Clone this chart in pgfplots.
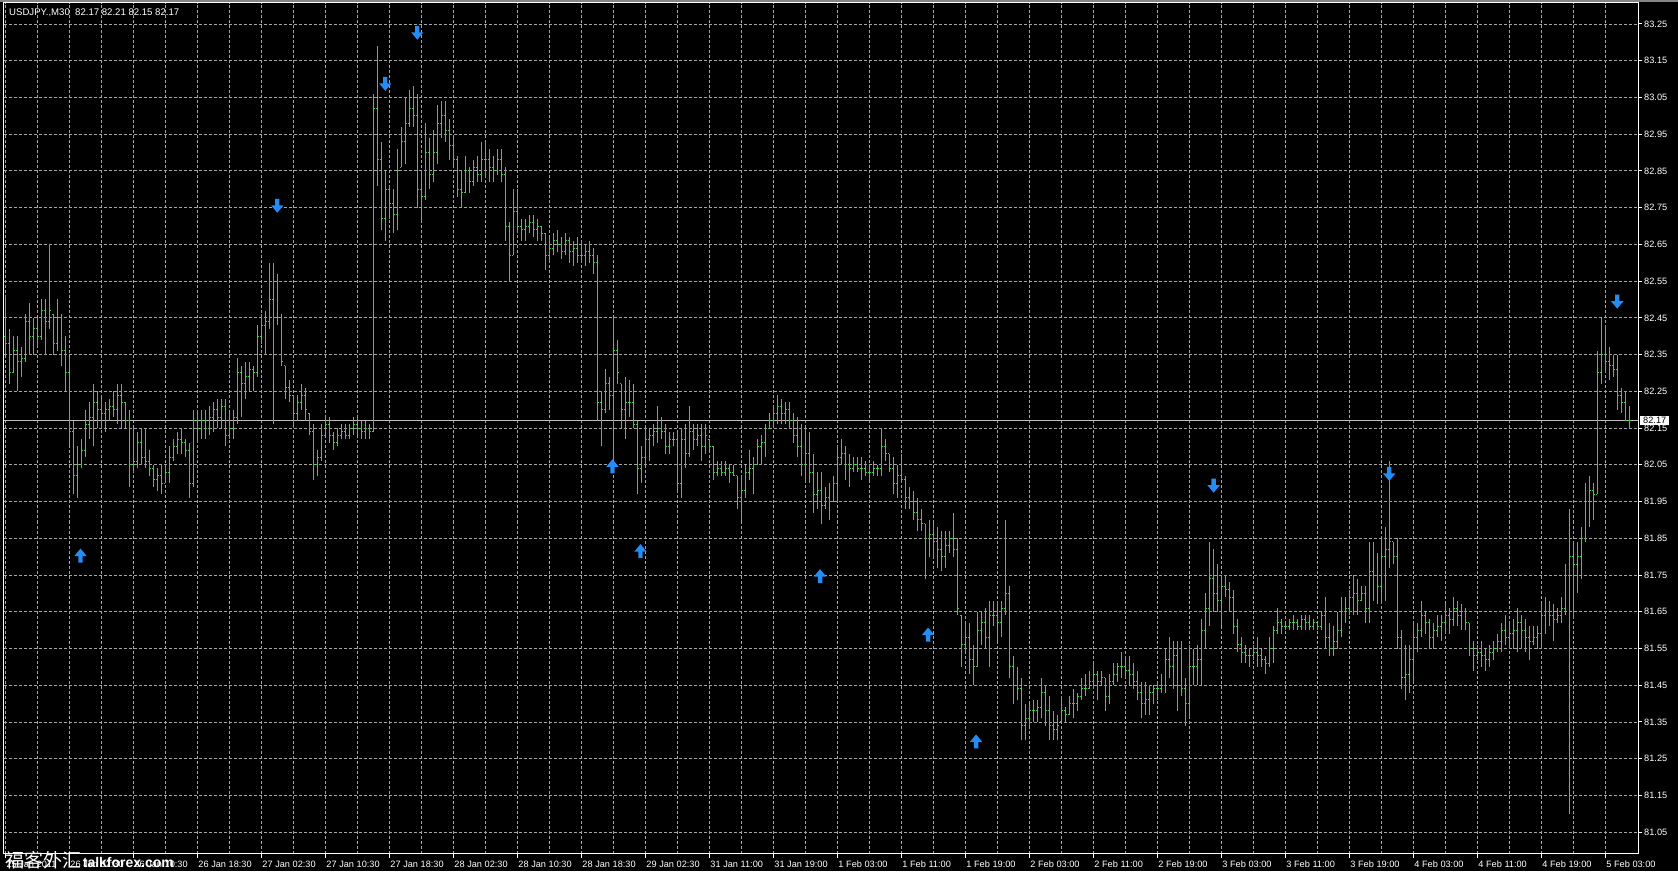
\documentclass[border=0pt]{standalone}
\usepackage{fontspec}
\setmainfont{Liberation Sans}
\newfontfamily\cjk{Noto Sans CJK SC}
\usepackage{pgfplots}
\usepackage{pgfplotstable}
\pgfplotsset{compat=1.18}

\definecolor{barcol}{RGB}{72,200,72}
\definecolor{arrcol}{RGB}{35,140,245}
\definecolor{gridcol}{RGB}{165,165,165}
\definecolor{pricecol}{RGB}{190,190,190}

% MT4-style signal arrows
\pgfdeclareplotmark{mtup}{%
  \pgfpathmoveto{\pgfqpoint{-2.2pt}{-7pt}}%
  \pgfpathlineto{\pgfqpoint{2.2pt}{-7pt}}%
  \pgfpathlineto{\pgfqpoint{2.2pt}{-0.5pt}}%
  \pgfpathlineto{\pgfqpoint{6.2pt}{-0.5pt}}%
  \pgfpathlineto{\pgfqpoint{0pt}{7pt}}%
  \pgfpathlineto{\pgfqpoint{-6.2pt}{-0.5pt}}%
  \pgfpathlineto{\pgfqpoint{-2.2pt}{-0.5pt}}%
  \pgfpathclose\pgfusepathqfill}
\pgfdeclareplotmark{mtdown}{%
  \pgfpathmoveto{\pgfqpoint{-2.2pt}{7pt}}%
  \pgfpathlineto{\pgfqpoint{2.2pt}{7pt}}%
  \pgfpathlineto{\pgfqpoint{2.2pt}{0.5pt}}%
  \pgfpathlineto{\pgfqpoint{6.2pt}{0.5pt}}%
  \pgfpathlineto{\pgfqpoint{0pt}{-7pt}}%
  \pgfpathlineto{\pgfqpoint{-6.2pt}{0.5pt}}%
  \pgfpathlineto{\pgfqpoint{-2.2pt}{0.5pt}}%
  \pgfpathclose\pgfusepathqfill}

% USDJPY M30 bars: index, open, high, low, close
\pgfplotstableread{
i o h l c
0 82.40 82.51 82.35 82.38
1 82.38 82.42 82.27 82.30
2 82.30 82.40 82.30 82.36
3 82.36 82.40 82.25 82.33
4 82.33 82.37 82.29 82.34
5 82.34 82.46 82.33 82.44
6 82.44 82.49 82.35 82.40
7 82.40 82.45 82.35 82.42
8 82.42 82.45 82.37 82.40
9 82.40 82.50 82.39 82.47
10 82.47 82.50 82.35 82.44
11 82.44 82.65 82.42 82.47
12 82.46 82.46 82.35 82.38
13 82.38 82.50 82.36 82.45
14 82.45 82.46 82.32 82.36
15 82.36 82.40 82.25 82.30
16 82.30 82.34 82.10 82.14
17 82.14 82.17 81.97 82.02
18 82.02 82.10 81.96 82.05
19 82.05 82.12 82.04 82.09
20 82.09 82.20 82.07 82.16
21 82.16 82.22 82.12 82.18
22 82.18 82.27 82.10 82.22
23 82.22 82.25 82.15 82.20
24 82.20 82.24 82.15 82.19
25 82.19 82.22 82.14 82.20
26 82.20 82.23 82.17 82.21
27 82.21 82.25 82.18 82.20
28 82.20 82.27 82.16 82.24
29 82.24 82.27 82.15 82.22
30 82.22 82.22 82.15 82.17
31 82.17 82.20 81.99 82.05
32 82.05 82.15 82.03 82.06
33 82.06 82.14 82.04 82.11
34 82.11 82.15 82.05 82.07
35 82.07 82.15 82.04 82.06
36 82.06 82.09 82.02 82.04
37 82.04 82.05 81.99 82.01
38 82.01 82.04 81.98 82.02
39 82.02 82.05 81.97 82.00
40 82.00 82.05 82.00 82.03
41 82.03 82.10 82.00 82.07
42 82.07 82.12 82.06 82.10
43 82.10 82.14 82.08 82.12
44 82.12 82.15 82.08 82.11
45 82.11 82.12 82.07 82.09
46 82.09 82.11 81.96 82.00
47 82.00 82.20 81.99 82.17
48 82.17 82.20 82.11 82.15
49 82.15 82.20 82.12 82.17
50 82.17 82.20 82.12 82.15
51 82.15 82.21 82.13 82.18
52 82.18 82.22 82.14 82.20
53 82.20 82.23 82.15 82.18
54 82.18 82.23 82.15 82.21
55 82.21 82.23 82.10 82.13
56 82.13 82.19 82.12 82.15
57 82.15 82.20 82.12 82.18
58 82.18 82.34 82.16 82.30
59 82.30 82.32 82.18 82.27
60 82.27 82.33 82.23 82.29
61 82.29 82.33 82.25 82.31
62 82.31 82.32 82.25 82.30
63 82.30 82.43 82.29 82.40
64 82.40 82.46 82.38 82.43
65 82.43 82.47 82.35 82.44
66 82.44 82.60 82.42 82.50
67 82.50 82.60 82.16 82.45
68 82.45 82.57 82.43 82.45
69 82.45 82.46 82.32 82.33
70 82.32 82.32 82.23 82.26
71 82.26 82.28 82.22 82.24
72 82.24 82.24 82.15 82.19
73 82.19 82.24 82.17 82.22
74 82.22 82.27 82.20 82.24
75 82.24 82.26 82.17 82.20
76 82.19 82.19 82.13 82.14
77 82.14 82.16 82.01 82.05
78 82.05 82.09 82.02 82.07
79 82.07 82.16 82.06 82.13
80 82.13 82.18 82.13 82.16
81 82.16 82.18 82.11 82.13
82 82.13 82.14 82.09 82.11
83 82.11 82.15 82.10 82.13
84 82.13 82.16 82.12 82.14
85 82.14 82.16 82.12 82.13
86 82.13 82.16 82.12 82.15
87 82.15 82.18 82.13 82.16
88 82.16 82.18 82.13 82.15
89 82.15 82.17 82.12 82.14
90 82.14 82.17 82.12 82.15
91 82.15 82.16 82.12 82.14
92 82.14 83.06 82.14 83.02
93 83.02 83.19 82.81 82.88
94 82.88 82.93 82.69 82.72
95 82.72 82.85 82.66 82.80
96 82.80 82.81 82.72 82.76
97 82.76 82.80 82.68 82.73
98 82.73 82.91 82.69 82.85
99 82.86 82.97 82.86 82.93
100 82.93 83.05 82.87 82.98
101 82.98 83.07 82.97 83.02
102 83.02 83.08 82.97 83.00
103 83.00 83.06 82.75 82.80
104 82.80 82.85 82.71 82.78
105 82.78 82.98 82.77 82.90
106 82.90 82.94 82.80 82.84
107 82.84 82.96 82.82 82.90
108 82.90 83.03 82.87 82.98
109 82.98 83.04 82.94 83.00
110 83.00 83.04 82.93 82.96
111 82.96 82.99 82.88 82.92
112 82.92 82.94 82.86 82.88
113 82.88 82.89 82.78 82.80
114 82.80 82.85 82.75 82.79
115 82.79 82.89 82.79 82.85
116 82.85 82.86 82.79 82.82
117 82.82 82.88 82.81 82.86
118 82.86 82.89 82.82 82.84
119 82.84 82.93 82.82 82.88
120 82.88 82.93 82.83 82.88
121 82.88 82.91 82.82 82.86
122 82.86 82.89 82.82 82.85
123 82.85 82.91 82.84 82.88
124 82.88 82.91 82.82 82.84
125 82.84 82.86 82.66 82.70
126 82.70 82.71 82.55 82.62
127 82.62 82.80 82.62 82.74
128 82.74 82.80 82.68 82.70
129 82.70 82.72 82.66 82.69
130 82.69 82.72 82.66 82.70
131 82.70 82.73 82.68 82.71
132 82.71 82.73 82.67 82.69
133 82.69 82.72 82.66 82.70
134 82.70 82.70 82.66 82.68
135 82.68 82.68 82.58 82.62
136 82.62 82.67 82.60 82.64
137 82.64 82.68 82.62 82.66
138 82.66 82.69 82.63 82.65
139 82.65 82.67 82.61 82.63
140 82.63 82.68 82.62 82.66
141 82.66 82.67 82.60 82.63
142 82.63 82.66 82.59 82.64
143 82.64 82.67 82.60 82.62
144 82.62 82.66 82.60 82.62
145 82.62 82.65 82.59 82.63
146 82.63 82.66 82.60 82.62
147 82.62 82.64 82.57 82.60
148 82.60 82.62 82.17 82.22
149 82.22 82.25 82.10 82.20
150 82.20 82.31 82.19 82.27
151 82.27 82.29 82.20 82.24
152 82.24 82.45 82.06 82.36
153 82.36 82.39 82.27 82.30
154 82.27 82.27 82.15 82.20
155 82.20 82.29 82.12 82.22
156 82.22 82.28 82.18 82.22
157 82.22 82.27 82.15 82.16
158 82.16 82.17 81.97 82.04
159 82.04 82.10 82.00 82.07
160 82.07 82.15 82.05 82.12
161 82.12 82.15 82.06 82.13
162 82.13 82.16 82.10 82.14
163 82.14 82.21 82.11 82.15
164 82.15 82.18 82.12 82.14
165 82.14 82.16 82.08 82.10
166 82.10 82.14 82.08 82.12
167 82.12 82.14 82.10 82.12
168 82.12 82.14 81.98 82.00
169 82.00 82.15 81.96 82.12
170 82.12 82.16 82.04 82.08
171 82.08 82.21 82.07 82.14
172 82.14 82.16 82.09 82.12
173 82.12 82.16 82.10 82.13
174 82.13 82.16 82.06 82.10
175 82.10 82.16 82.08 82.13
176 82.12 82.12 82.09 82.10
177 82.10 82.10 82.01 82.03
178 82.03 82.06 82.02 82.04
179 82.04 82.06 82.02 82.03
180 82.03 82.06 82.02 82.04
181 82.04 82.05 82.00 82.03
182 82.03 82.05 82.02 82.02
183 82.02 82.02 81.93 81.96
184 81.96 82.02 81.90 81.98
185 81.98 82.05 81.96 82.03
186 82.03 82.09 82.01 82.04
187 82.04 82.07 81.97 82.05
188 82.05 82.12 82.05 82.10
189 82.10 82.13 82.05 82.11
190 82.11 82.16 82.07 82.15
191 82.15 82.19 82.15 82.17
192 82.17 82.21 82.15 82.19
193 82.19 82.24 82.16 82.21
194 82.21 82.23 82.16 82.19
195 82.19 82.22 82.16 82.20
196 82.20 82.22 82.15 82.17
197 82.17 82.19 82.11 82.13
198 82.13 82.18 82.07 82.10
199 82.10 82.16 82.02 82.05
200 82.05 82.15 82.00 82.08
201 82.08 82.14 82.00 82.03
202 82.03 82.08 81.92 81.97
203 81.97 82.03 81.93 81.98
204 81.98 82.03 81.89 81.94
205 81.94 81.99 81.93 81.96
206 81.96 82.00 81.90 81.95
207 81.95 82.02 81.95 82.00
208 82.00 82.10 81.95 82.07
209 82.07 82.12 82.05 82.08
210 82.08 82.10 82.01 82.05
211 82.05 82.08 81.99 82.04
212 82.04 82.07 82.03 82.05
213 82.05 82.07 82.03 82.04
214 82.04 82.07 82.01 82.04
215 82.04 82.06 82.02 82.03
216 82.03 82.05 82.01 82.03
217 82.03 82.06 82.02 82.04
218 82.04 82.05 82.02 82.04
219 82.04 82.15 82.02 82.10
220 82.10 82.12 82.06 82.08
221 82.08 82.08 82.03 82.04
222 82.04 82.07 81.97 82.00
223 82.00 82.05 81.96 82.02
224 82.02 82.08 82.00 82.01
225 82.01 82.02 81.93 81.96
226 81.96 81.99 81.93 81.95
227 81.95 81.98 81.90 81.92
228 81.92 81.96 81.87 81.90
229 81.90 81.93 81.87 81.89
230 81.89 81.89 81.74 81.85
231 81.85 81.90 81.80 81.86
232 81.86 81.89 81.80 81.84
233 81.84 81.88 81.77 81.82
234 81.82 81.87 81.76 81.80
235 81.80 81.87 81.77 81.83
236 81.83 81.87 81.81 81.85
237 81.85 81.92 81.80 81.82
238 81.82 81.85 81.64 81.66
239 81.64 81.64 81.50 81.56
240 81.56 81.62 81.54 81.58
241 81.58 81.62 81.48 81.52
242 81.52 81.56 81.45 81.50
243 81.50 81.65 81.50 81.60
244 81.60 81.65 81.56 81.62
245 81.62 81.66 81.55 81.58
246 81.58 81.68 81.50 81.64
247 81.64 81.68 81.61 81.64
248 81.64 81.68 81.57 81.62
249 81.62 81.68 81.58 81.66
250 81.66 81.90 81.64 81.70
251 81.70 81.72 81.47 81.50
252 81.50 81.53 81.40 81.45
253 81.45 81.50 81.41 81.44
254 81.44 81.47 81.30 81.34
255 81.34 81.40 81.30 81.36
256 81.36 81.40 81.34 81.38
257 81.38 81.41 81.35 81.38
258 81.38 81.41 81.35 81.39
259 81.39 81.47 81.36 81.43
260 81.43 81.45 81.34 81.38
261 81.38 81.42 81.30 81.34
262 81.34 81.38 81.30 81.33
263 81.33 81.37 81.30 81.34
264 81.35 81.42 81.35 81.38
265 81.38 81.39 81.35 81.37
266 81.37 81.42 81.37 81.40
267 81.40 81.44 81.36 81.40
268 81.40 81.43 81.38 81.42
269 81.42 81.47 81.41 81.44
270 81.44 81.48 81.42 81.44
271 81.44 81.49 81.44 81.46
272 81.46 81.51 81.44 81.48
273 81.48 81.49 81.41 81.46
274 81.46 81.49 81.45 81.47
275 81.47 81.47 81.38 81.42
276 81.42 81.48 81.40 81.46
277 81.46 81.51 81.45 81.48
278 81.48 81.51 81.46 81.50
279 81.50 81.54 81.47 81.50
280 81.50 81.53 81.47 81.49
281 81.49 81.53 81.45 81.48
282 81.48 81.51 81.44 81.46
283 81.46 81.49 81.41 81.43
284 81.43 81.46 81.36 81.40
285 81.40 81.46 81.37 81.41
286 81.41 81.45 81.37 81.43
287 81.43 81.45 81.40 81.44
288 81.44 81.46 81.41 81.44
289 81.44 81.48 81.43 81.45
290 81.45 81.55 81.43 81.52
291 81.52 81.58 81.47 81.50
292 81.50 81.57 81.44 81.53
293 81.53 81.57 81.38 81.45
294 81.45 81.57 81.42 81.44
295 81.44 81.47 81.34 81.40
296 81.40 81.56 81.36 81.50
297 81.50 81.55 81.45 81.50
298 81.50 81.56 81.45 81.52
299 81.52 81.63 81.45 81.60
300 81.60 81.70 81.55 81.66
301 81.66 81.84 81.61 81.74
302 81.74 81.82 81.65 81.70
303 81.70 81.78 81.65 81.68
304 81.68 81.75 81.61 81.72
305 81.72 81.75 81.69 81.71
306 81.71 81.73 81.65 81.69
307 81.69 81.71 81.59 81.61
308 81.61 81.63 81.54 81.56
309 81.56 81.58 81.51 81.54
310 81.54 81.56 81.51 81.53
311 81.53 81.55 81.50 81.53
312 81.53 81.56 81.52 81.54
313 81.54 81.58 81.50 81.53
314 81.53 81.55 81.50 81.52
315 81.52 81.53 81.48 81.51
316 81.51 81.58 81.50 81.55
317 81.55 81.61 81.51 81.60
318 81.60 81.66 81.59 81.62
319 81.62 81.63 81.59 81.61
320 81.61 81.62 81.60 81.61
321 81.61 81.63 81.60 81.62
322 81.62 81.64 81.60 81.62
323 81.62 81.63 81.60 81.61
324 81.61 81.64 81.60 81.63
325 81.63 81.64 81.60 81.62
326 81.62 81.64 81.60 81.61
327 81.61 81.63 81.60 81.62
328 81.62 81.62 81.60 81.61
329 81.61 81.65 81.60 81.64
330 81.64 81.69 81.55 81.58
331 81.58 81.62 81.53 81.55
332 81.55 81.61 81.53 81.57
333 81.57 81.65 81.55 81.60
334 81.60 81.69 81.58 81.65
335 81.65 81.69 81.62 81.66
336 81.66 81.71 81.64 81.69
337 81.69 81.75 81.64 81.70
338 81.70 81.74 81.64 81.68
339 81.68 81.72 81.68 81.70
340 81.70 81.72 81.62 81.66
341 81.66 81.84 81.62 81.76
342 81.76 81.84 81.68 81.75
343 81.75 81.81 81.67 81.72
344 81.72 81.85 81.67 81.80
345 81.80 81.88 81.68 81.82
346 81.82 82.06 81.77 81.84
347 81.84 81.84 81.78 81.80
348 81.80 81.85 81.55 81.58
349 81.58 81.60 81.44 81.47
350 81.47 81.56 81.41 81.48
351 81.48 81.56 81.43 81.52
352 81.52 81.62 81.46 81.58
353 81.58 81.62 81.54 81.60
354 81.60 81.68 81.58 81.64
355 81.64 81.65 81.59 81.62
356 81.62 81.63 81.55 81.58
357 81.58 81.62 81.55 81.60
358 81.60 81.64 81.58 81.61
359 81.61 81.64 81.57 81.62
360 81.62 81.67 81.59 81.64
361 81.64 81.66 81.59 81.63
362 81.63 81.69 81.61 81.66
363 81.66 81.68 81.61 81.64
364 81.64 81.67 81.60 81.65
365 81.65 81.66 81.60 81.62
366 81.62 81.62 81.53 81.55
367 81.55 81.57 81.49 81.53
368 81.53 81.56 81.52 81.54
369 81.54 81.57 81.50 81.53
370 81.53 81.55 81.49 81.52
371 81.52 81.56 81.50 81.54
372 81.54 81.57 81.52 81.55
373 81.55 81.59 81.54 81.57
374 81.57 81.62 81.54 81.60
375 81.60 81.64 81.56 81.58
376 81.58 81.62 81.55 81.59
377 81.59 81.63 81.55 81.60
378 81.60 81.66 81.54 81.62
379 81.62 81.64 81.55 81.60
380 81.60 81.63 81.54 81.58
381 81.58 81.61 81.52 81.57
382 81.57 81.61 81.56 81.58
383 81.58 81.61 81.55 81.59
384 81.59 81.67 81.55 81.64
385 81.64 81.69 81.59 81.65
386 81.65 81.68 81.61 81.64
387 81.64 81.67 81.57 81.63
388 81.63 81.66 81.62 81.64
389 81.64 81.69 81.62 81.66
390 81.66 81.78 81.64 81.75
391 81.75 81.93 81.10 81.80
392 81.80 81.84 81.63 81.78
393 81.78 81.84 81.70 81.80
394 81.80 81.88 81.74 81.85
395 81.85 82.00 81.84 81.95
396 81.95 82.02 81.88 81.98
397 81.98 82.00 81.90 81.97
398 81.97 82.36 81.97 82.30
399 82.30 82.45 82.27 82.35
400 82.35 82.43 82.30 82.33
401 82.33 82.37 82.28 82.32
402 82.32 82.35 82.29 82.31
403 82.31 82.35 82.20 82.24
404 82.24 82.26 82.19 82.22
405 82.22 82.25 82.17 82.17
406 82.17 82.21 82.15 82.17
}\bars

\begin{document}
\begin{tikzpicture}
\useasboundingbox (0,0) rectangle (1678pt,871pt);
\fill[black] (0,0) rectangle (1678pt,871pt);
\fill[pricecol!70!black] (0,869pt) rectangle (1678pt,871pt);

\begin{axis}[
  at={(3.5pt,17.5pt)}, anchor=south west,
  scale only axis, width=1634.5pt, height=850.5pt,
  xmin=-0.45, xmax=408.2, ymin=80.992, ymax=83.307,
  axis background/.style={fill=black},
  axis line style={white, line width=1pt},
  tick style={white, line width=1pt},
  tick align=outside, major tick length=4pt, minor tick length=0pt,
  xtick pos=left, ytick pos=right, yticklabel pos=right,
  xtick={0,16,...,400},
  minor xtick={8,24,...,392},
  xticklabels={25 Jan 2011,26 Jan 02:30,26 Jan 10:30,26 Jan 18:30,27 Jan 02:30,27 Jan 10:30,27 Jan 18:30,28 Jan 02:30,28 Jan 10:30,28 Jan 18:30,29 Jan 02:30,31 Jan 11:00,31 Jan 19:00,1 Feb 03:00,1 Feb 11:00,1 Feb 19:00,2 Feb 03:00,2 Feb 11:00,2 Feb 19:00,3 Feb 03:00,3 Feb 11:00,3 Feb 19:00,4 Feb 03:00,4 Feb 11:00,4 Feb 19:00,5 Feb 03:00},
  ytick={81.05,81.15,81.25,81.35,81.45,81.55,81.65,81.75,81.85,81.95,82.05,82.15,82.25,82.35,82.45,82.55,82.65,82.75,82.85,82.95,83.05,83.15,83.25},
  yticklabels={81.05,81.15,81.25,81.35,81.45,81.55,81.65,81.75,81.85,81.95,82.05,82.15,82.25,82.35,82.45,82.55,82.65,82.75,82.85,82.95,83.05,83.15,83.25},
  grid=both,
  major grid style={gridcol, dash pattern=on 3pt off 2pt, line width=0.8pt},
  minor grid style={gridcol, dash pattern=on 3pt off 2pt, line width=0.8pt},
  ticklabel style={text=white, font=\fontsize{9.2}{10}\selectfont},
  xticklabel style={anchor=north west, inner sep=0pt, xshift=1pt, yshift=-3pt},
  yticklabel style={anchor=west, inner sep=0pt, xshift=2pt},
]
% current bid line
\addplot[pricecol, line width=1pt] coordinates {(-0.45,82.17) (408.2,82.17)};
% high-low ranges
\addplot[barcol, line width=1pt, quiver={u=0, v=\thisrow{h}-\thisrow{l}}] table[x=i, y=l] {\bars};
% open ticks
\addplot[barcol, line width=1pt, quiver={u=-0.4, v=0}] table[x=i, y=o] {\bars};
% close ticks
\addplot[barcol, line width=1pt, quiver={u=0.4, v=0}] table[x=i, y=c] {\bars};
% buy signals
\addplot[only marks, mark=mtup, color=arrcol, mark options={fill=arrcol}] coordinates {
  (18.8,81.803) (151.8,82.046) (158.8,81.815) (203.7,81.747) (230.7,81.588) (242.7,81.297)};
% sell signals
\addplot[only marks, mark=mtdown, color=arrcol, mark options={fill=arrcol}] coordinates {
  (68.0,82.755) (95.0,83.087) (103.0,83.226) (302.1,81.993) (346.0,82.025) (403.0,82.494)};
\coordinate (bid) at (axis cs:408.2,82.17);
\end{axis}

% bid price tag on the price scale
\node[anchor=west, fill=white, text=black, inner xsep=3pt, inner ysep=1.5pt,
      font=\fontsize{9.2}{10}\selectfont] at ([xshift=2pt]bid) {82.17};

% symbol header
\node[anchor=west, text=white, inner sep=0pt, font=\fontsize{9.6}{10}\selectfont]
  at (9pt,858pt) {USDJPY.,M30\ \ 82.17 82.21 82.15 82.17};

% forum watermark
\node[anchor=west, inner sep=0pt, text=white] at (5pt,11pt)
  {{\cjk\fontsize{19}{20}\selectfont 福客外汇}\,{\bfseries\fontsize{14}{15}\selectfont talkforex.com}};
\end{tikzpicture}
\end{document}
